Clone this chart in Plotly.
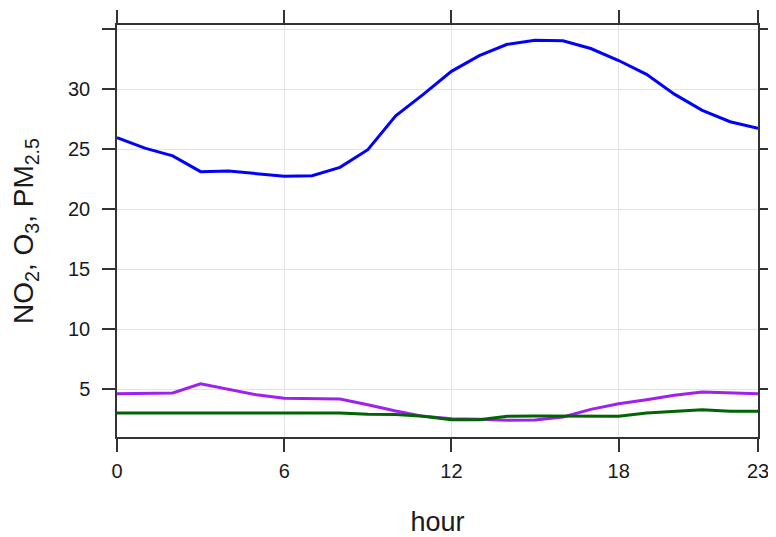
import plotly.graph_objects as go

hours = list(range(24))
no2 = [25.97, 25.1, 24.45, 23.14, 23.2, 22.97, 22.75, 22.8, 23.5, 24.97, 27.8, 29.6,
       31.5, 32.8, 33.75, 34.08, 34.05, 33.4, 32.4, 31.25, 29.6, 28.25, 27.3, 26.75]
o3 = [4.64, 4.7, 4.7, 5.47, 5.0, 4.55, 4.25, 4.2, 4.2, 3.72, 3.2, 2.75,
      2.55, 2.5, 2.42, 2.45, 2.7, 3.33, 3.8, 4.14, 4.5, 4.78, 4.72, 4.64]
pm25 = [3.03, 3.03, 3.03, 3.03, 3.03, 3.03, 3.03, 3.03, 3.03, 2.92, 2.9, 2.75,
        2.47, 2.47, 2.75, 2.78, 2.75, 2.75, 2.75, 3.03, 3.17, 3.3, 3.17, 3.17]

x_ticks = [0, 6, 12, 18, 23]
y_ticks = [5, 10, 15, 20, 25, 30, 35]
y_ticktext = ["5", "10", "15", "20", "25", "30", ""]

series = [
    ("NO2", no2, "#0000FF"),
    ("O3", o3, "#A020F0"),
    ("PM2.5", pm25, "#006400"),
]

fig = go.Figure()
for name, vals, col in series:
    fig.add_trace(go.Scatter(x=hours, y=vals, mode="lines", name=name,
                             line=dict(color=col, width=3)))

axis_common = dict(
    showline=True, linecolor="#333333", linewidth=1.5, mirror="allticks",
    ticks="outside", ticklen=13, tickwidth=1.5, tickcolor="#333333",
    showgrid=True, gridcolor="#E3E3E3", gridwidth=1.3, zeroline=False,
    automargin=False,
    tickfont=dict(family="Liberation Sans, Arial", size=20, color="#1a1a1a"),
)

# the page body adds an 8px offset, so the figure is sized to fit the window
fig.update_layout(
    width=768, height=529,
    margin=dict(l=109, r=18, t=17, b=100),
    paper_bgcolor="white", plot_bgcolor="white",
    showlegend=False,
    font=dict(family="Liberation Sans, Arial", color="#1a1a1a"),
    xaxis=dict(range=[0, 23], tickvals=x_ticks, ticklabelstandoff=2,
               title=dict(text="hour", font=dict(size=27), standoff=34),
               **axis_common),
    yaxis=dict(range=[1.03, 35.36], tickvals=y_ticks, ticktext=y_ticktext,
               ticklabelstandoff=8,
               title=dict(text="NO<sub>2</sub>, O<sub>3</sub>, PM<sub>2.5</sub>",
                          font=dict(size=28), standoff=26),
               **axis_common),
)

fig.write_html("out.html")
